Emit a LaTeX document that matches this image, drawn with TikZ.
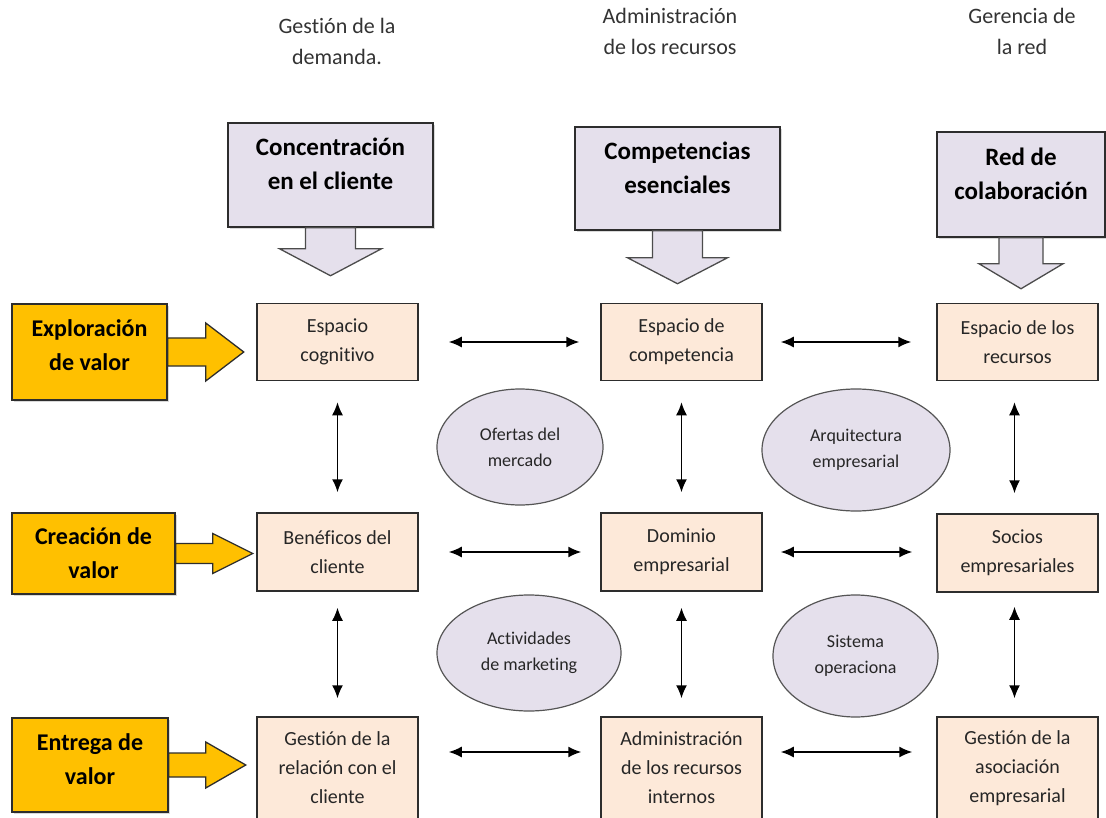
\documentclass[tikz,border=0pt]{standalone}
\usepackage{fontspec}
\setmainfont{Carlito}[Ligatures=NoCommon]
\usetikzlibrary{arrows.meta,calc,shapes.geometric,shadows}
\definecolor{BoxLine}{RGB}{45,45,45}
\definecolor{EllLine}{RGB}{85,85,85}
\definecolor{SoftPeach}{RGB}{253,233,217}
\definecolor{SoftLilac}{RGB}{229,224,236}
\definecolor{ValueGold}{RGB}{255,192,0}
\tikzset{
  heading/.style={align=center,text=black!80,
    font=\fontsize{22}{31}\selectfont},
  focus/.style={draw=BoxLine,fill=SoftLilac,line width=1.5pt,inner sep=0pt,
    align=center,font=\bfseries\fontsize{25}{34}\selectfont,text depth=22pt,
    drop shadow={shadow xshift=2pt,shadow yshift=-2pt,opacity=0.3}},
  value/.style={draw=BoxLine,fill=ValueGold,line width=1.5pt,inner sep=0pt,
    align=center,font=\bfseries\fontsize{24}{34}\selectfont,
    drop shadow={shadow xshift=2pt,shadow yshift=-2pt,opacity=0.3}},
  space/.style={draw=BoxLine,fill=SoftPeach,line width=1.5pt,inner sep=0pt,
    minimum width=161pt,align=center,text=black!85,
    font=\fontsize{20}{29}\selectfont},
  link/.style={ellipse,draw=EllLine,fill=SoftLilac,line width=1.2pt,
    inner sep=0pt,align=center,text=black!85,
    font=\fontsize{18}{26}\selectfont},
  both/.style={{Latex[length=13pt,width=11pt]}-{Latex[length=13pt,width=11pt]},
    line width=1.5pt,black},
  fatdown/.style={draw=BoxLine!85,fill=SoftLilac,line width=1.3pt,line join=miter},
  fatright/.style={draw=BoxLine,fill=ValueGold,line width=1.3pt,line join=miter}
}

\begin{document}
\begin{tikzpicture}[x=1pt,y=-1pt]
  \useasboundingbox (0,0) rectangle (1106,818);

  % column headings
  \node[heading] (hdem) at (337,41) {Gestión de la\\demanda.};
  \node[heading] (hrec) at (670,31.5) {Administración\\de los recursos};
  \node[heading] (hred) at (1022,31.5) {Gerencia de\\la red};

  \node[focus,minimum width=205pt,minimum height=104pt] (concen) at (330.5,175)
    {Concentración\\en el cliente};
  \node[focus,minimum width=205pt,minimum height=103pt] (compet) at (677.5,178.5)
    {Competencias\\esenciales};
  \node[focus,minimum width=168pt,minimum height=105pt] (colab) at (1021,184.5)
    {Red de\\colaboración};

  \draw[fatdown] ($(concen.south)+(-25,0)$) -- ++(0,21) -- ++(-26,0)
    -- ($(concen.south)+(0,48)$) -- ($(concen.south)+(51,21)$)
    -- ++(-26,0) -- ($(concen.south)+(25,0)$) -- cycle;
  \draw[fatdown] ($(compet.south)+(-25,0)$) -- ++(0,27) -- ++(-25,0)
    -- ($(compet.south)+(0,53)$) -- ($(compet.south)+(50,27)$)
    -- ++(-25,0) -- ($(compet.south)+(25,0)$) -- cycle;
  \draw[fatdown] ($(colab.south)+(-22,0)$) -- ++(0,26) -- ++(-20,0)
    -- ($(colab.south)+(0,51)$) -- ($(colab.south)+(42,26)$)
    -- ++(-20,0) -- ($(colab.south)+(22,0)$) -- cycle;

  % value rows
  \node[value,minimum width=155pt,minimum height=96pt,text depth=14pt] (explo)
    at (89.5,352) {Exploración\\de valor};
  \node[value,minimum width=163pt,minimum height=81pt] (crea) at (93.5,553.5)
    {Creación de\\valor};
  \node[value,minimum width=156pt,minimum height=94pt,text depth=12pt] (entre)
    at (90,765) {Entrega de\\valor};

  \draw[fatright] ($(explo.east)+(0,-14)$) -- ++(38,0) -- ++(0,-15)
    -- ($(explo.east)+(76,0)$) -- ($(explo.east)+(38,29)$)
    -- ++(0,-15) -- ($(explo.east)+(0,14)$) -- cycle;
  \draw[fatright] ($(crea.east)+(0,-10)$) -- ++(37,0) -- ++(0,-10)
    -- ($(crea.east)+(77,0)$) -- ($(crea.east)+(37,20)$)
    -- ++(0,-10) -- ($(crea.east)+(0,10)$) -- cycle;
  \draw[fatright] ($(entre.east)+(0,-12)$) -- ++(37,0) -- ++(0,-11)
    -- ($(entre.east)+(77,0)$) -- ($(entre.east)+(37,23)$)
    -- ++(0,-11) -- ($(entre.east)+(0,12)$) -- cycle;

  % spaces
  \node[space,minimum height=77pt] (cogn) at (337.5,342) {Espacio\\cognitivo};
  \node[space,minimum height=77pt] (compe) at (681.5,342) {Espacio de\\competencia};
  \node[space,minimum height=77pt] (recur) at (1017.5,342) {Espacio de los\\recursos};
  \node[space,minimum height=78pt] (benef) at (337.5,552) {Benéficos del\\cliente};
  \node[space,minimum height=78pt] (domin) at (681.5,552) {Dominio\\empresarial};
  \node[space,minimum height=78pt] (socio) at (1017.5,553) {Socios\\empresariales};
  \node[space,minimum height=102pt] (relac) at (337.5,768)
    {Gestión de la\\relación con el\\cliente};
  \node[space,minimum height=102pt] (admin) at (681.5,768)
    {Administración\\de los recursos\\internos};
  \node[space,minimum height=102pt] (asoci) at (1017.5,768)
    {Gestión de la\\asociación\\empresarial};

  \node[link,minimum width=166pt,minimum height=116pt] (ofert) at (520,447)
    {Ofertas del\\mercado};
  \node[link,minimum width=188pt,minimum height=122pt] (arqui) at (856,450)
    {Arquitectura\\empresarial};
  \node[link,minimum width=184pt,minimum height=116pt] (activ) at (529,653)
    {Actividades\\de marketing};
  \node[link,minimum width=165pt,minimum height=122pt] (siste) at (855.5,656)
    {Sistema\\operaciona};

  % links between spaces
  \draw[both,shorten <=30pt,shorten >=21pt] (cogn) -- (compe);
  \draw[both,shorten <=18pt,shorten >=25pt] (compe) -- (recur);
  \draw[both,shorten <=30pt,shorten >=19pt] (benef) -- (domin);
  \draw[both,shorten <=18pt,shorten >=24pt] (domin.east) -- (domin.east -| socio.west);
  \draw[both,shorten <=30pt,shorten >=19pt] ([yshift=16pt]relac.east) -- ([yshift=16pt]admin.west);
  \draw[both,shorten <=18pt,shorten >=24pt] ([yshift=16pt]admin.east) -- ([yshift=16pt]asoci.west);

  \draw[both,shorten <=21pt,shorten >=20pt] (cogn) -- (benef);
  \draw[both,shorten <=21pt,shorten >=20pt] (compe) -- (domin);
  \draw[both,shorten <=21pt,shorten >=20pt] ([xshift=-3pt]recur.south) -- ([xshift=-3pt]socio.north);
  \draw[both,shorten <=16pt,shorten >=18pt] (benef) -- (relac);
  \draw[both,shorten <=16pt,shorten >=18pt] (domin) -- (admin);
  \draw[both,shorten <=14pt,shorten >=18pt] ([xshift=-3pt]socio.south) -- ([xshift=-3pt]asoci.north);
\end{tikzpicture}
\end{document}
